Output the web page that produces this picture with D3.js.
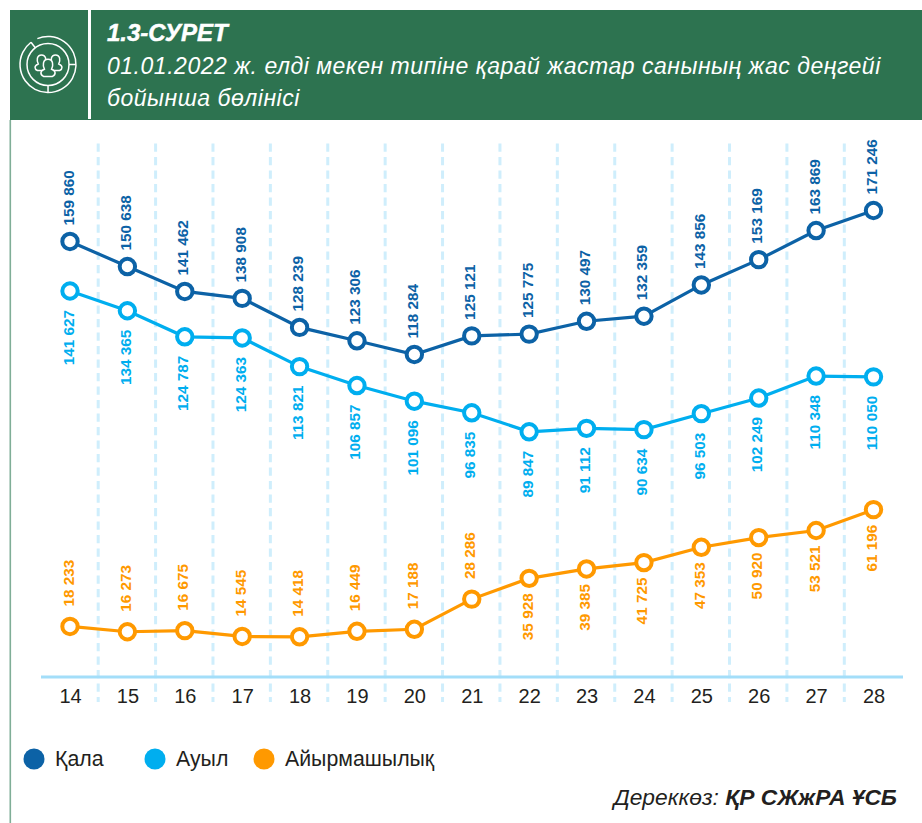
<!DOCTYPE html>
<html><head><meta charset="utf-8">
<style>html,body{margin:0;padding:0;background:#fff}svg{display:block}text{font-family:"Liberation Sans",Arial,sans-serif}</style>
<script src="https://cdn.jsdelivr.net/npm/d3@7/dist/d3.min.js"></script>
</head><body><svg id="c" width="922" height="823"></svg>
<script>
const ages=[14,15,16,17,18,19,20,21,22,23,24,25,26,27,28];
const kala=[159860,150638,141462,138908,128239,123306,118284,125121,125775,130497,132359,143856,153169,163869,171246];
const auyl=[141627,134365,124787,124363,113821,106857,101096,96835,89847,91112,90634,96503,102249,110348,110050];
const diff=[18233,16273,16675,14545,14418,16449,17188,28286,35928,39385,41725,47353,50920,53521,61196];
const names=["Қала","Ауыл","Айырмашылық"];
const colors=["#0c62a6","#00aeef","#ff9900"];
const titleLines=["1.3-СУРЕТ","01.01.2022 ж. елді мекен типіне қарай жастар санының жас деңгейі","бойынша бөлінісі"];
const svg=d3.select("#c");
const x=d3.scalePoint().domain(ages).range([70,873.5]);
const y=d3.scaleLinear().domain([0,171246]).range([676,210.5]);
const step=x.step();
const fmt=v=>d3.format(",")(v).replace(/,/g," ");
// header
svg.append("rect").attr("x",10).attr("y",10).attr("width",912).attr("height",110).attr("fill","#2d7350");
svg.append("rect").attr("x",88).attr("y",10).attr("width",3).attr("height",109).attr("fill","#fff");
svg.append("rect").attr("x",9.5).attr("y",120).attr("width",1.6).attr("height",703).attr("fill","#7fae97");
const ic=svg.append("g").attr("transform","translate(48,64.5)").attr("fill","none").attr("stroke","#fff").attr("stroke-width",1.5);
const arc=d3.arc().innerRadius(28).outerRadius(28);
ic.append("path").attr("d",arc({startAngle:-0.39,endAngle:5.63}));
ic.append("circle").attr("r",21);
[5.63,1.57,3.14].forEach(a=>ic.append("line").attr("x1",21*Math.sin(a)).attr("y1",-21*Math.cos(a)).attr("x2",28*Math.sin(a)).attr("y2",-28*Math.cos(a)));
const person=(cx,cy,s)=>`M${cx-5*s},${cy+11*s}C${cx-9*s},${cy+9*s} ${cx-9*s},${cy+5*s} ${cx-4*s},${cy+3*s}C${cx-6*s},${cy-1*s} ${cx-6*s},${cy-8*s} ${cx},${cy-8*s}C${cx+6*s},${cy-8*s} ${cx+6*s},${cy-1*s} ${cx+4*s},${cy+3*s}C${cx+9*s},${cy+5*s} ${cx+9*s},${cy+9*s} ${cx+5*s},${cy+11*s}Z`;
ic.append("path").attr("d",person(-6.5,-3,.82));
ic.append("path").attr("d",person(7.5,-3,.82));
ic.append("path").attr("d",person(0,2,.9)).attr("fill","#2d7350");
// title
const tt=svg.append("g").attr("fill","#fff").attr("font-style","italic");
tt.append("text").attr("x",107).attr("y",41).attr("font-size",24).attr("font-weight","bold").attr("stroke","#fff").attr("stroke-width",0.5).text(titleLines[0]);
tt.append("text").attr("x",107).attr("y",74).attr("font-size",23).attr("letter-spacing",0.52).text(titleLines[1]);
tt.append("text").attr("x",107).attr("y",106).attr("font-size",23).attr("letter-spacing",0.52).text(titleLines[2]);
// dashed separators
svg.append("g").selectAll("line").data(ages.slice(0,-1)).join("line")
 .attr("x1",d=>x(d)+step/2-0.5).attr("x2",d=>x(d)+step/2-0.5).attr("y1",143.5).attr("y2",702)
 .attr("stroke","#cfeefc").attr("stroke-width",3).attr("stroke-dasharray","8.3 5.2");
// axis
svg.append("line").attr("x1",41).attr("x2",903).attr("y1",677).attr("y2",677).attr("stroke","#a3def9").attr("stroke-width",3);
const ax=svg.append("g").attr("transform","translate(0,677)").call(d3.axisBottom(x).tickSize(0).tickPadding(12));
ax.select(".domain").remove();
ax.selectAll("text").attr("font-size",20).attr("fill","#231f20").attr("font-family","Liberation Sans");
// series
const line=d3.line().x((d,i)=>x(ages[i])).y(d=>y(d));
const series=[kala,auyl,diff];
series.forEach((vals,s)=>{
 const g=svg.append("g");
 g.append("path").attr("d",line(vals)).attr("fill","none").attr("stroke",colors[s]).attr("stroke-width",3.2);
 g.selectAll("circle").data(vals).join("circle").attr("cx",(d,i)=>x(ages[i])).attr("cy",d=>y(d)).attr("r",7.7)
  .attr("fill","#fff").attr("stroke",colors[s]).attr("stroke-width",4);
 g.selectAll("text").data(vals).join("text")
  .attr("transform",(d,i)=>{
    const below=s===1||(s===2&&i>=8);
    const yy=y(d)+(below?(s===1?19:15):(s===0?-16:-20));
    return `translate(${x(ages[i])+3.5},${yy}) rotate(-90)`;
  })
  .attr("text-anchor",(d,i)=>(s===1||(s===2&&i>=8))?"end":"start")
  .attr("font-size",15.3).attr("font-weight","bold").attr("fill",colors[s]).text(fmt);
});
// legend
const lx=[34,155,264];
names.forEach((n,i)=>{
 svg.append("circle").attr("cx",lx[i]).attr("cy",759).attr("r",10.5).attr("fill",colors[i]);
 svg.append("text").attr("x",lx[i]+21).attr("y",766).attr("font-size",21.3).attr("fill","#231f20").text(n);
});
// source
const src=svg.append("text").attr("x",897).attr("y",805).attr("text-anchor","end").attr("font-size",22.8).attr("font-style","italic").attr("fill","#231f20");
src.append("tspan").text("Дереккөз: ");
src.append("tspan").attr("font-weight","bold").text("ҚР СЖжРА ҰСБ");
</script></body></html>
